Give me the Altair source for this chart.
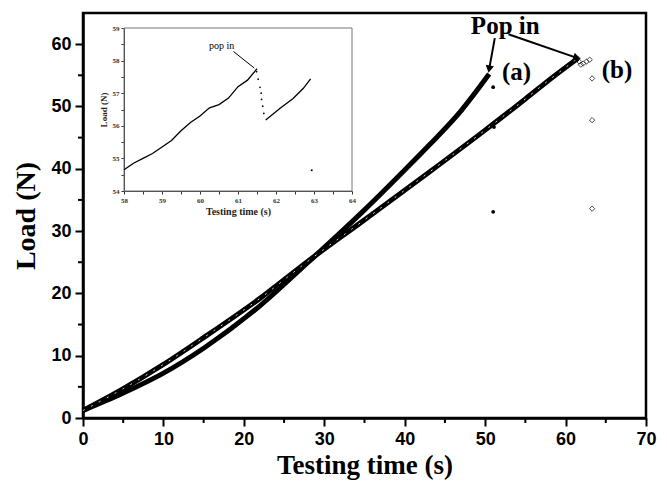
import math
import altair as alt
import pandas as pd

# ---------------- data ----------------
a_time = [0, 5, 10, 15, 22, 28, 35, 40, 43.2, 47, 50.5]
a_load = [1.2, 4.0, 7.2, 11.2, 18.0, 25.0, 33.4, 39.8, 44.0, 49.3, 55.2]

b_time = [0, 5, 10, 15, 22, 28, 35, 43.2, 50, 55, 58, 61.5]
b_load = [1.2, 4.7, 8.6, 12.9, 19.2, 25.2, 31.8, 39.6, 46.2, 51.2, 54.3, 57.7]

a_dot_time = [51.0, 51.1, 51.0]
a_dot_load = [53.1, 46.7, 33.1]

b_dia_time = [61.5, 61.7, 61.9, 62.2, 62.6, 63.0, 63.3, 63.3, 63.3]
b_dia_load = [57.7, 57.2, 56.7, 56.9, 57.2, 57.5, 54.5, 47.8, 33.6]

x_major = [0, 10, 20, 30, 40, 50, 60, 70]
x_minor = [5, 15, 25, 35, 45, 55, 65]
y_major = [0, 10, 20, 30, 40, 50, 60]
y_minor = [5, 15, 25, 35, 45, 55]

labels_text = ["Pop in", "(a)", "(b)"]
labels_time = [52.5, 53.9, 66.4]
labels_load = [62.9, 55.5, 55.8]

arrow_t0 = [51.2, 52.9]
arrow_l0 = [60.96, 61.6]
arrow_t1 = [50.5, 61.4]
arrow_l1 = [56.0, 57.8]

# inset
in_rise_time = [58.0, 58.25, 58.5, 58.75, 59.0, 59.25, 59.5, 59.75, 60.0, 60.25, 60.5, 60.75, 61.0, 61.25, 61.5]
in_rise_load = [54.65, 54.85, 55.0, 55.15, 55.35, 55.55, 55.85, 56.1, 56.3, 56.55, 56.65, 56.85, 57.2, 57.4, 57.75]
in_drop_time = [61.49, 61.53, 61.58, 61.61, 61.62, 61.65, 61.68]
in_drop_load = [57.66, 57.43, 57.18, 57.0, 56.81, 56.6, 56.38]
in_rec_time = [61.73, 62.1, 62.45, 62.72, 62.91]
in_rec_load = [56.18, 56.53, 56.84, 57.15, 57.44]
in_lone_time = [62.94]
in_lone_load = [54.64]
in_x_ticks = [58, 58.5, 59, 59.5, 60, 60.5, 61, 61.5, 62, 62.5, 63, 63.5, 64]
in_y_ticks = [54, 54.5, 55, 55.5, 56, 56.5, 57, 57.5, 58, 58.5, 59]

# ---------------- layout constants ----------------
W, H = 563, 405
SERIF = "Liberation Serif"
SANS = "Liberation Sans"

xs = alt.Scale(domain=[0, 70], nice=False, zero=False)
ys = alt.Scale(domain=[0, 65], nice=False, zero=False)

X = alt.X("t:Q", scale=xs, axis=alt.Axis(
    values=x_major, tickSize=8, tickWidth=2, domainWidth=2.5, domainColor="black",
    tickColor="black", labelFont=SANS, labelFontWeight="bold", labelFontSize=18,
    labelColor="black", labelPadding=4, title="Testing time (s)", titleFont=SERIF,
    titleFontSize=27, titleFontWeight="bold", titleColor="black", titlePadding=4,
    grid=False, labelFlush=False))
Y = alt.Y("l:Q", scale=ys, axis=alt.Axis(
    values=y_major, tickSize=8, tickWidth=2, domainWidth=2.5, domainColor="black",
    tickColor="black", labelFont=SANS, labelFontWeight="bold", labelFontSize=18,
    labelColor="black", labelPadding=4, title="Load (N)", titleFont=SERIF,
    titleFontSize=28, titleFontWeight="bold", titleColor="black", titlePadding=10,
    grid=False, labelFlush=False))

df_a = pd.DataFrame({"t": a_time, "l": a_load})
df_b = pd.DataFrame({"t": b_time, "l": b_load})
df_ad = pd.DataFrame({"t": a_dot_time, "l": a_dot_load})
df_bd = pd.DataFrame({"t": b_dia_time, "l": b_dia_load})
df_lab = pd.DataFrame({"t": labels_time, "l": labels_load, "txt": labels_text})

px_per_t = W / 70.0
px_per_l = H / 65.0
angles = []
for t0, l0, t1, l1 in zip(arrow_t0, arrow_l0, arrow_t1, arrow_l1):
    dx = (t1 - t0) * px_per_t
    dy = -(l1 - l0) * px_per_l
    ang = math.degrees(math.atan2(dx, -dy)) % 360
    angles.append(ang)
df_arr = pd.DataFrame({"t": arrow_t0, "l": arrow_l0, "t2": arrow_t1, "l2": arrow_l1, "ang": angles})

line_a = alt.Chart(df_a).mark_line(color="black", strokeWidth=5, interpolate="monotone").encode(x=X, y=Y)
line_b = alt.Chart(df_b).mark_line(color="black", strokeWidth=5, interpolate="monotone").encode(x=X, y=Y)
line_b_speck = alt.Chart(df_b).mark_line(color="white", strokeWidth=0.8, strokeDash=[2, 7],
                                         interpolate="monotone").encode(x="t:Q", y="l:Q")
dots_a = alt.Chart(df_ad).mark_circle(color="black", size=14, opacity=1).encode(x="t:Q", y="l:Q")
dias_b = alt.Chart(df_bd).mark_point(shape="diamond", filled=False, color="black", size=28,
                                     strokeWidth=1).encode(x="t:Q", y="l:Q")
texts = alt.Chart(df_lab).mark_text(font=SERIF, fontSize=25, fontWeight="bold", color="black",
                                    align="center", baseline="middle").encode(x="t:Q", y="l:Q", text="txt:N")
arrow_lines = alt.Chart(df_arr).mark_rule(color="black", strokeWidth=2).encode(
    x="t:Q", y="l:Q", x2="t2:Q", y2="l2:Q")
arrow_heads = alt.Chart(df_arr).mark_point(shape="triangle-up", filled=True, color="black", size=70,
                                           opacity=1).encode(x="t2:Q", y="l2:Q", angle=alt.Angle("ang:Q", scale=None))

minor_x = alt.Chart(pd.DataFrame({"t": x_minor})).mark_rule(color="black", strokeWidth=2).encode(
    x="t:Q", y=alt.value(H), y2=alt.value(H + 5))
minor_y = alt.Chart(pd.DataFrame({"l": y_minor})).mark_rule(color="black", strokeWidth=2).encode(
    y="l:Q", x=alt.value(-5), x2=alt.value(0))

main = alt.layer(line_a, line_b, line_b_speck, dots_a, dias_b, arrow_lines, arrow_heads, texts,
                 minor_x, minor_y)

# ---------------- inset ----------------
IX0, IX1 = 41, 269       # pixel range inside main plot
IY0, IY1 = 15, 178
ixs = alt.Scale(domain=[58, 64], range=[IX0, IX1], nice=False, zero=False)
iys = alt.Scale(domain=[54, 59], range=[IY1, IY0], nice=False, zero=False)

IXe = alt.X("t:Q", scale=ixs, axis=alt.Axis(
    orient="bottom", offset=IY1 - H, values=in_x_ticks,
    labelExpr="datum.value % 1 === 0 ? format(datum.value, 'd') : ''",
    tickSize=3, tickWidth=1, domainWidth=1, domainColor="#333", tickColor="#333",
    labelFont=SERIF, labelFontWeight="bold", labelFontSize=7, labelColor="#333", labelPadding=2,
    title="Testing time (s)", titleFont=SERIF, titleFontSize=10, titleFontWeight="bold",
    titleColor="#222", titlePadding=3, grid=False, labelFlush=False))
IYe = alt.Y("l:Q", scale=iys, axis=alt.Axis(
    orient="left", offset=-IX0, values=in_y_ticks,
    labelExpr="datum.value % 1 === 0 ? format(datum.value, 'd') : ''",
    tickSize=3, tickWidth=1, domainWidth=1, domainColor="#333", tickColor="#333",
    labelFont=SERIF, labelFontWeight="bold", labelFontSize=7, labelColor="#333", labelPadding=2,
    title="Load (N)", titleFont=SERIF, titleFontSize=9, titleFontWeight="bold",
    titleColor="#222", titlePadding=4, grid=False, labelFlush=False))

df_frame = pd.DataFrame({"t": [58], "t2": [64], "l": [54], "l2": [59]})
frame = alt.Chart(df_frame).mark_rect(filled=False, stroke="#777", strokeWidth=1).encode(
    x=IXe, x2="t2:Q", y=IYe, y2="l2:Q")
in_rise = alt.Chart(pd.DataFrame({"t": in_rise_time, "l": in_rise_load})).mark_line(
    color="black", strokeWidth=1.3).encode(x="t:Q", y="l:Q")
in_drop = alt.Chart(pd.DataFrame({"t": in_drop_time, "l": in_drop_load})).mark_circle(
    color="black", size=3, opacity=1).encode(x="t:Q", y="l:Q")
in_rec = alt.Chart(pd.DataFrame({"t": in_rec_time, "l": in_rec_load})).mark_line(
    color="black", strokeWidth=1.3).encode(x="t:Q", y="l:Q")
in_lone = alt.Chart(pd.DataFrame({"t": in_lone_time, "l": in_lone_load})).mark_circle(
    color="black", size=4, opacity=1).encode(x="t:Q", y="l:Q")
in_txt = alt.Chart(pd.DataFrame({"t": [60.57], "l": [58.46], "txt": ["pop in"]})).mark_text(
    font=SERIF, fontSize=10, color="black", align="center", baseline="middle").encode(
    x="t:Q", y="l:Q", text="txt:N")
in_arrow = alt.Chart(pd.DataFrame({"t": [60.88], "l": [58.28], "t2": [61.43], "l2": [57.77]})).mark_rule(
    color="black", strokeWidth=1).encode(x="t:Q", y="l:Q", x2="t2:Q", y2="l2:Q")

inset = alt.layer(frame, in_rise, in_drop, in_rec, in_lone, in_txt, in_arrow)

chart = alt.layer(main, inset).resolve_scale(x="independent", y="independent").properties(
    width=W, height=H,
    autosize=alt.AutoSizeParams(type="none"),
    padding={"left": 75, "top": 5, "right": 13, "bottom": 68},
    background="white",
).configure_view(stroke="black", strokeWidth=2.5)

chart.save("out.html", embed_options={"renderer": "svg", "actions": False})
